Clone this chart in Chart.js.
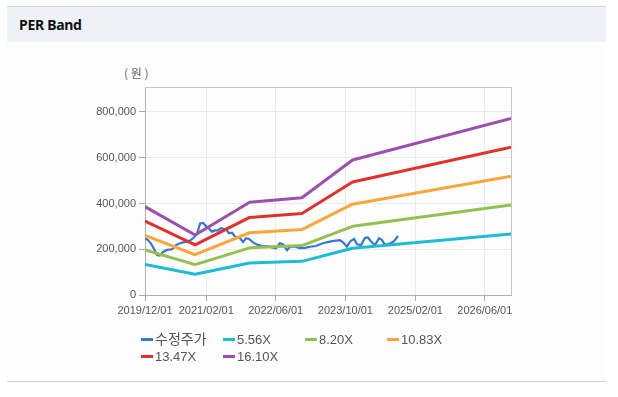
<!DOCTYPE html>
<html>
<head>
<meta charset="utf-8">
<script src="https://cdn.jsdelivr.net/npm/chart.js@4/dist/chart.umd.min.js"></script>
<style>
  html, body { margin:0; padding:0; background:#fff; width:618px; height:397px; overflow:hidden; }
  #frame { position:absolute; left:7px; top:6px; width:599px; height:374px; background:#fdfdfd; border-top:1px solid #d3d3d3; border-bottom:1px solid #cfcfcf; }
  #head { position:absolute; left:7px; top:7px; width:599px; height:35px; background:#eef2f7; }
  #head span { position:absolute; left:12px; top:8px; font-family:"Noto Sans", sans-serif; font-weight:bold; font-size:14px; color:#111; letter-spacing:-0.3px; }
  #unit { position:absolute; left:124px; top:64px; font-family:"Noto Sans CJK KR", sans-serif; font-size:12px; color:#666; white-space:pre; }
  #c { position:absolute; left:0; top:0; }
  #legend { position:absolute; left:141px; top:328px; width:340px; font-family:"Liberation Sans", Arial, sans-serif; font-size:13px; color:#555; }
  .li { display:inline-block; width:82px; height:17px; white-space:nowrap; }
  .li i { display:inline-block; width:12px; height:3px; vertical-align:middle; margin-right:2px; position:relative; top:-1px; }
  .li.k { font-family:"Noto Sans CJK KR", sans-serif; font-size:14px; }
</style>
</head>
<body>
<div id="frame"></div>
<div id="head"><span>PER Band</span></div>
<div id="unit">( 원 )</div>
<canvas id="c" width="618" height="397"></canvas>
<div id="legend"></div>
<script>
// ---- data ----
const tickLabels = ['2019/12/01','2021/02/01','2022/06/01','2023/10/01','2025/02/01','2026/06/01'];
const yTicks = [0, 200000, 400000, 600000, 800000];

const bandDates = ['2019/12/01','2020/11/15','2021/12/01','2022/12/01','2023/11/20','2026/12/01'];
const band556  = [133000,  90500, 140000, 147000, 204000, 267000];
const band820  = [197000, 133000, 206000, 216000, 300000, 393000];
const band1083 = [260000, 176000, 272000, 286000, 397000, 519000];
const band1347 = [323000, 219000, 339000, 356000, 494000, 646000];
const band1610 = [386000, 262000, 405000, 425000, 590000, 772000];

const priceDates = ['2019/12/01','2019/12/22','2020/01/12','2020/02/03','2020/02/23','2020/03/14','2020/04/05','2020/05/02','2020/06/07','2020/07/04','2020/08/02','2020/09/06','2020/10/11','2020/11/08','2020/11/29','2020/12/20','2021/01/10','2021/02/01','2021/02/20','2021/03/12','2021/04/03','2021/04/24','2021/05/14','2021/06/05','2021/06/25','2021/07/09','2021/07/31','2021/08/21','2021/09/11','2021/09/25','2021/10/16','2021/11/06','2021/11/27','2021/12/25','2022/01/23','2022/02/25','2022/04/01','2022/05/05','2022/06/03','2022/06/30','2022/07/21','2022/08/19','2022/09/09','2022/10/14','2022/11/18','2022/12/23','2023/01/28','2023/03/08','2023/04/26','2023/06/14','2023/07/26','2023/08/24','2023/09/14','2023/10/12','2023/11/02','2023/12/01','2023/12/21','2024/01/19','2024/02/15','2024/03/06','2024/03/27','2024/04/25','2024/05/23','2024/06/13','2024/07/03','2024/08/08','2024/09/05','2024/10/03'];
const priceValues = [248000,240000,225000,200000,175000,172000,188000,197000,200000,218000,226000,232000,238000,252000,268000,313000,315000,300000,290000,277000,282000,282000,292000,288000,282000,270000,272000,255000,250000,248000,232000,248000,245000,230000,220000,214000,214000,208000,204000,226000,222000,196000,211000,211000,205000,206000,211000,214000,226000,233000,238000,240000,230000,211000,233000,245000,222000,218000,250000,252000,235000,218000,248000,240000,219000,225000,235000,258000];

const seriesNames = ['수정주가','5.56X','8.20X','10.83X','13.47X','16.10X'];
const seriesColors = ['#3478d6','#1cbdd2','#93c04e','#f9a63a','#e3302a','#9c4fae'];

// ---- helpers ----
function toDay(s){ const p = s.split('/').map(Number); return Date.UTC(p[0], p[1]-1, p[2]) / 86400000; }
function pts(dates, vals){ return dates.map((d,i)=>({x: toDay(d), y: vals[i]})); }

const bands = [band556, band820, band1083, band1347, band1610];
const datasets = [];
bands.forEach((b,i)=>{
  datasets.push({label: seriesNames[i+1], data: pts(bandDates, b), borderColor: seriesColors[i+1], backgroundColor: seriesColors[i+1], borderWidth: 3, pointRadius: 0, tension: 0, borderJoinStyle: 'round'});
});
datasets.push({label: seriesNames[0], data: pts(priceDates, priceValues), borderColor: seriesColors[0], backgroundColor: seriesColors[0], borderWidth: 2.2, pointRadius: 0, tension: 0});

const frame = {
  id: 'frame',
  afterDraw(chart){
    const {ctx, chartArea: a} = chart;
    ctx.save();
    ctx.strokeStyle = '#c4c4c4';
    ctx.lineWidth = 1;
    ctx.beginPath();
    ctx.moveTo(a.left, a.top + 0.5); ctx.lineTo(a.right + 0.5, a.top + 0.5); ctx.lineTo(a.right + 0.5, a.bottom);
    ctx.stroke();
    ctx.restore();
  }
};

new Chart(document.getElementById('c'), {
  type: 'line',
  data: { datasets },
  options: {
    responsive: false,
    animation: false,
    events: [],
    layout: { padding: { left: 0, top: 87, right: 107, bottom: 72 } },
    plugins: { legend: { display: false }, tooltip: { enabled: false } },
    scales: {
      x: {
        type: 'linear',
        min: toDay('2019/12/01'),
        max: toDay('2026/12/01'),
        afterBuildTicks: s => { s.ticks = tickLabels.map(t => ({ value: toDay(t) })); },
        afterFit: s => { s.height = 30; },
        ticks: { callback: (v, i) => tickLabels[i], maxRotation: 0, autoSkip: false, padding: 3, color: '#555', font: { family: '"Liberation Sans", Arial, sans-serif', size: 11 } },
        grid: { color: '#ebebeb', tickColor: '#aaa', tickLength: 6 },
        border: { color: '#b0b0b0' }
      },
      y: {
        min: 0,
        max: 909000,
        afterBuildTicks: s => { s.ticks = yTicks.map(v => ({ value: v })); },
        afterFit: s => { s.width = 145; },
        ticks: { callback: v => v.toLocaleString('en-US'), padding: 3, color: '#555', font: { family: '"Liberation Sans", Arial, sans-serif', size: 11 } },
        grid: { color: '#ebebeb', tickColor: '#aaa', tickLength: 6 },
        border: { color: '#b0b0b0' }
      }
    }
  },
  plugins: [frame]
});

// legend
const lg = document.getElementById('legend');
seriesNames.forEach((n,i)=>{
  const d = document.createElement('span');
  d.className = 'li' + (i===0 ? ' k' : '');
  const m = document.createElement('i');
  m.style.background = seriesColors[i];
  d.appendChild(m);
  d.appendChild(document.createTextNode(n));
  lg.appendChild(d);
});
</script>
</body>
</html>
